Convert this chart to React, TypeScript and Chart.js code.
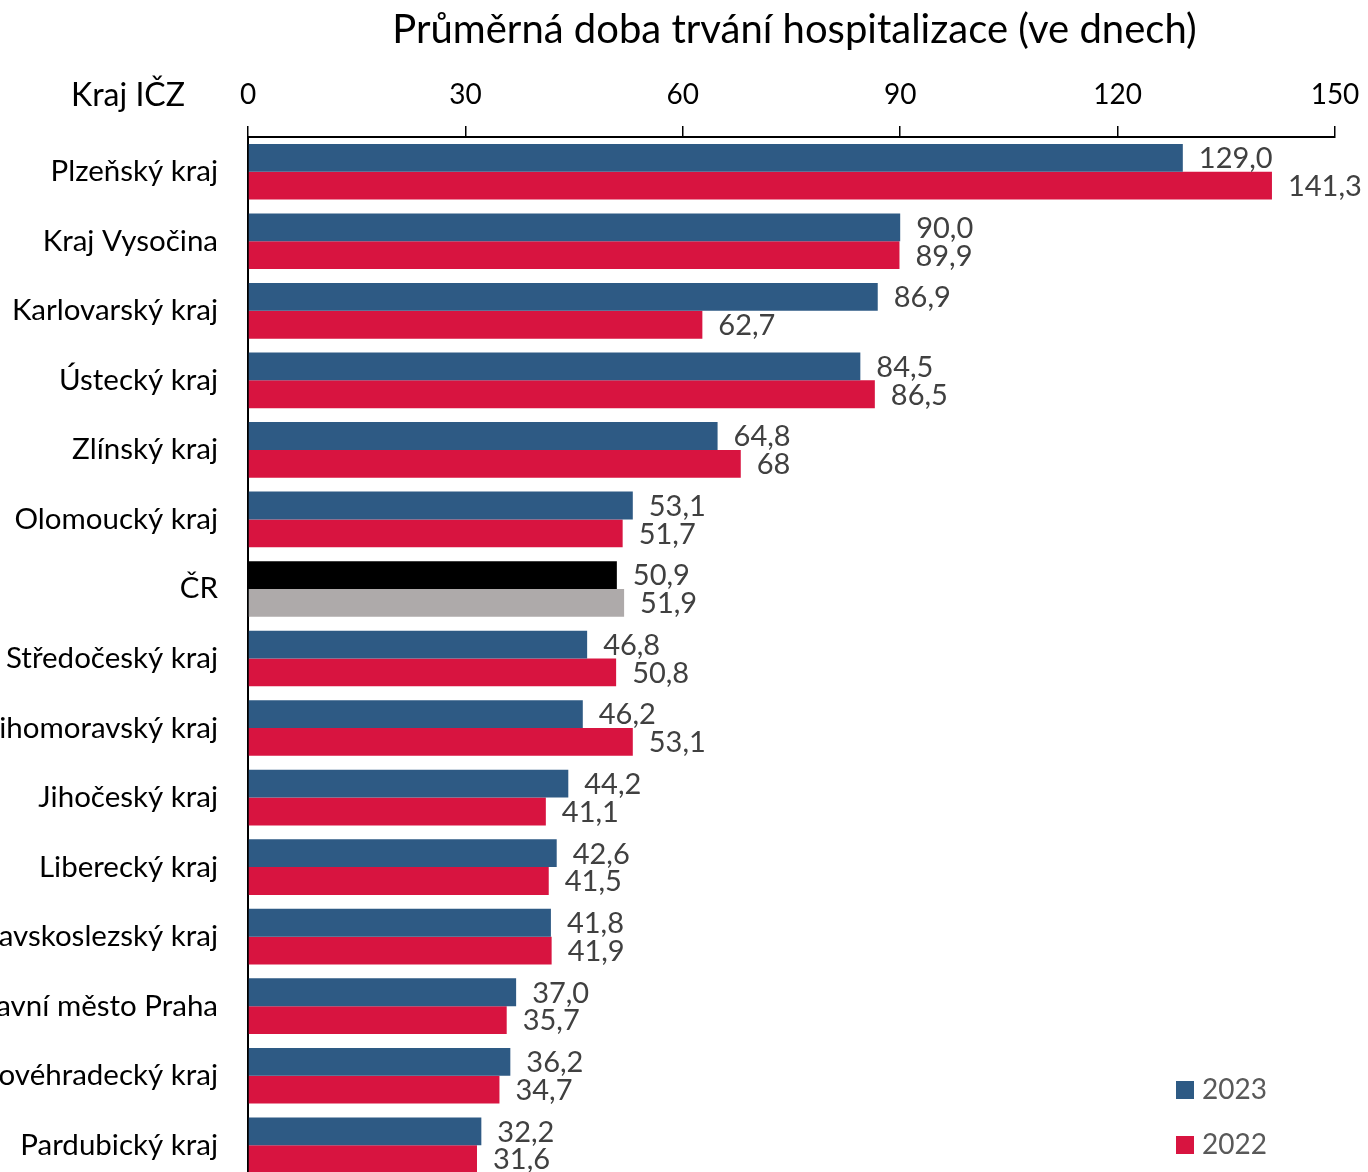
import React, { useEffect, useRef } from "react";
import { Chart, registerables } from "chart.js";

Chart.register(...registerables);

const categories = [
  "Plzeňský kraj",
  "Kraj Vysočina",
  "Karlovarský kraj",
  "Ústecký kraj",
  "Zlínský kraj",
  "Olomoucký kraj",
  "ČR",
  "Středočeský kraj",
  "Jihomoravský kraj",
  "Jihočeský kraj",
  "Liberecký kraj",
  "Moravskoslezský kraj",
  "Hlavní město Praha",
  "Královéhradecký kraj",
  "Pardubický kraj",
];

const values2023 = [129.0, 90.0, 86.9, 84.5, 64.8, 53.1, 50.9, 46.8, 46.2, 44.2, 42.6, 41.8, 37.0, 36.2, 32.2];
const values2022 = [141.3, 89.9, 62.7, 86.5, 68, 51.7, 51.9, 50.8, 53.1, 41.1, 41.5, 41.9, 35.7, 34.7, 31.6];

// labels shown exactly as in the source (one value printed without decimals)
const labelOverrides2022: Record<number, string> = { 4: "68" };

const xTicks = [0, 30, 60, 90, 120, 150];

const TITLE = "Průměrná doba trvání hospitalizace (ve dnech)";
const AXIS_CAPTION = "Kraj IČZ";
const TOTAL_CATEGORY = "ČR";

const BLUE = "#2E5A84";
const RED = "#D81440";
const BLACK = "#000000";
const GRAY = "#AEAAAA";

const FONT = "Lato, 'Open Sans', sans-serif";

const fmt = (v: number) => v.toFixed(1).replace(".", ",");

export default function App() {
  const ref = useRef<HTMLCanvasElement | null>(null);

  useEffect(() => {
    document.body.style.margin = "0";
    document.body.style.overflow = "hidden";
    document.documentElement.style.overflow = "hidden";
    const canvas = ref.current;
    if (!canvas) return;

    const colors2023 = categories.map((c) => (c === TOTAL_CATEGORY ? BLACK : BLUE));
    const colors2022 = categories.map((c) => (c === TOTAL_CATEGORY ? GRAY : RED));

    const labelsPlugin = {
      id: "valueLabels",
      afterDatasetsDraw(chart: any) {
        const ctx = chart.ctx;
        ctx.save();
        ctx.font = `29px ${FONT}`;
        ctx.fillStyle = "#404040";
        ctx.textAlign = "left";
        ctx.textBaseline = "middle";
        chart.data.datasets.forEach((ds: any, di: number) => {
          const meta = chart.getDatasetMeta(di);
          meta.data.forEach((el: any, i: number) => {
            const v = ds.data[i];
            let text = fmt(v);
            if (di === 1 && labelOverrides2022[i] !== undefined) text = labelOverrides2022[i];
            ctx.fillText(text, el.x + 16, el.y + 1);
          });
        });
        ctx.restore();
      },
    };

    const decorPlugin = {
      id: "decor",
      afterDraw(chart: any) {
        const ctx = chart.ctx;
        const area = chart.chartArea;
        ctx.save();
        ctx.font = `40px ${FONT}`;
        ctx.fillStyle = "#000000";
        ctx.textAlign = "center";
        ctx.textBaseline = "middle";
        ctx.fillText(TITLE, (area.left + area.right) / 2 + 3, 30);
        ctx.font = `32px ${FONT}`;
        ctx.textAlign = "right";
        ctx.fillText(AXIS_CAPTION, 185, 96);
        ctx.font = `28px ${FONT}`;
        ctx.textAlign = "left";
        const items = chart.data.datasets.map((ds: any) => ({ label: ds.label, color: ds.legendColor }));
        items.forEach((it: any, k: number) => {
          const cy = 1090 + k * 55;
          ctx.fillStyle = it.color;
          ctx.fillRect(1176, cy - 9, 18, 18);
          ctx.fillStyle = "#595959";
          ctx.fillText(it.label, 1202, cy);
        });
        ctx.restore();
      },
    };

    const chart = new Chart(canvas, {
      type: "bar",
      data: {
        labels: categories,
        datasets: [
          {
            label: "2023",
            data: values2023,
            backgroundColor: colors2023,
            legendColor: BLUE,
            barPercentage: 1,
            categoryPercentage: 0.8,
          } as any,
          {
            label: "2022",
            data: values2022,
            backgroundColor: colors2022,
            legendColor: RED,
            barPercentage: 1,
            categoryPercentage: 0.8,
          } as any,
        ],
      },
      options: {
        indexAxis: "y",
        animation: false,
        responsive: false,
        maintainAspectRatio: false,
        layout: { padding: { left: 0, right: 33, top: 0, bottom: 0 } },
        plugins: {
          legend: { display: false },
          title: { display: false },
          tooltip: { enabled: false },
        },
        scales: {
          x: {
            position: "top",
            min: 0,
            max: 150,
            afterBuildTicks: (scale: any) => {
              scale.ticks = xTicks.map((v) => ({ value: v }));
            },
            afterFit: (scale: any) => {
              scale.height = 137;
              scale.paddingLeft = 0;
              scale.paddingRight = 0;
            },
            ticks: {
              color: "#000000",
              font: { family: FONT, size: 28 },
              padding: 14,
              maxRotation: 0,
              autoSkip: false,
            },
            grid: {
              display: true,
              drawOnChartArea: false,
              drawTicks: true,
              tickLength: 11,
              color: "#000000",
              lineWidth: 1.5,
            },
            border: { display: true, color: "#000000", width: 2 },
          },
          y: {
            afterFit: (scale: any) => {
              scale.width = 248;
              scale.paddingTop = 0;
              scale.paddingBottom = 0;
            },
            ticks: {
              color: "#000000",
              font: { family: FONT, size: 29.5 },
              padding: 30,
              autoSkip: false,
            },
            grid: { display: false, drawTicks: false },
            border: { display: true, color: "#000000", width: 2 },
          },
        },
      },
      plugins: [labelsPlugin, decorPlugin],
    } as any);

    return () => chart.destroy();
  }, []);

  return <canvas ref={ref} width={1368} height={1180} style={{ display: "block" }} />;
}
